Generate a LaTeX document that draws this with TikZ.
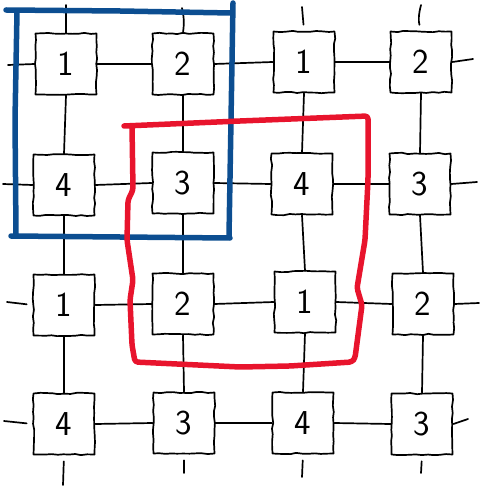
\documentclass[tikz,border=0pt]{standalone}
\usetikzlibrary{decorations.pathmorphing}
\definecolor{penblue}{RGB}{12,78,145}
\definecolor{penred}{RGB}{232,20,45}
\begin{document}
\begin{tikzpicture}[x=1pt,y=-1pt,
  ink/.style={line width=1.7pt,line cap=round,line join=round,black},
  box/.style={ink,draw,fill=white,minimum width=61pt,minimum height=61pt,inner sep=0pt,
    decorate,decoration={random steps,segment length=6pt,amplitude=0.7pt},
    font=\sffamily\fontsize{35}{35}\selectfont},
  wire/.style={ink},
  gapwire/.style={ink,shorten <=6pt},
  bluepen/.style={line width=5.5pt,line cap=round,line join=round,penblue},
  redpen/.style={line width=5.5pt,line cap=round,line join=round,penred,rounded corners=3pt}]
\pgfmathsetseed{11}
\useasboundingbox (0,0) rectangle (479,486);
% stub end points
\coordinate (t1) at (66,5);  \coordinate (t2) at (182,8);
\coordinate (t3) at (302,7); \coordinate (t4) at (421,5);
\coordinate (l1) at (8,65);  \coordinate (l2) at (3,184);
\coordinate (l3) at (7,302); \coordinate (l4) at (4,421);
\coordinate (r1) at (473,59); \coordinate (r2) at (477,182);
\coordinate (r3) at (479,303); \coordinate (r4) at (468,419);
\coordinate (u1) at (63,485); \coordinate (u2) at (184,473);
\coordinate (u3) at (302,477); \coordinate (u4) at (421,473);
% boxes
\node[box] (b11) at (66,64)  {1};
\node[box] (b12) at (183,64) {2};
\node[box] (b13) at (304,62) {1};
\node[box] (b14) at (421,62) {2};
\node[box] (b21) at (64,185) {4};
\node[box] (b22) at (183,183) {3};
\node[box] (b23) at (302,184) {4};
\node[box] (b24) at (420,184) {3};
\node[box] (b31) at (64,305) {1};
\node[box] (b32) at (183,304) {2};
\node[box] (b33) at (305,302) {1};
\node[box] (b34) at (423,304) {2};
\node[box] (b41) at (64,424) {4};
\node[box] (b42) at (184,423) {3};
\node[box] (b43) at (303,423) {4};
\node[box] (b44) at (422,424) {3};
% horizontal wires
\foreach \r in {1,2,3,4}{
  \draw[wire] (b\r1.east) -- (b\r2.west);
  \draw[wire] (b\r2.east) -- (b\r3.west);
  \draw[wire] (b\r3.east) -- (b\r4.west);
}
% vertical wires
\foreach \c in {1,2,3,4}{
  \draw[wire] (b1\c.south) -- (b2\c.north);
  \draw[wire] (b2\c.south) -- (b3\c.north);
  \draw[wire] (b3\c.south) -- (b4\c.north);
}
% stubs
\draw[wire] (b11.north) -- (t1);
\draw[wire] (b12.north) to[bend right=10] (t2);
\draw[gapwire] (b13.north) -- (t3);
\draw[gapwire] (b14.north) to[bend left=15] (t4);
\draw[wire] (b11.west) -- (l1);
\draw[wire] (b21.west) -- (l2);
\draw[gapwire] (b31.west) -- (l3);
\draw[gapwire] (b41.west) -- (l4);
\draw[wire] (b14.east) -- (r1);
\draw[wire] (b24.east) -- (r2);
\draw[wire] (b34.east) -- (r3);
\draw[wire] (b44.east) -- (r4);
\draw[gapwire] (b41.south) -- (u1);
\draw[gapwire] (b42.south) -- (u2);
\draw[gapwire] (b43.south) -- (u3);
\draw[gapwire] (b44.south) -- (u4);
% blue frame
\draw[bluepen] (6,10) -- (120,11) -- (231,13);
\draw[bluepen] (233,3) -- (231,120) -- (229,236);
\draw[bluepen] (17,12) -- (15,120) -- (16,234);
\draw[bluepen] (11,236) -- (120,237) -- (230,238);
% red frame
\draw[redpen] (124,126) -- (240,121) -- (368,116) -- (368,180) -- (365,240)
  -- (357,288) -- (362,305) -- (355,358) -- (352,362) -- (290,366) -- (240,367)
  -- (135,362) -- (132,345) -- (130,300) -- (133,280) -- (127,240) -- (128,200)
  -- (133,190) -- (132,126);
\end{tikzpicture}
\end{document}
